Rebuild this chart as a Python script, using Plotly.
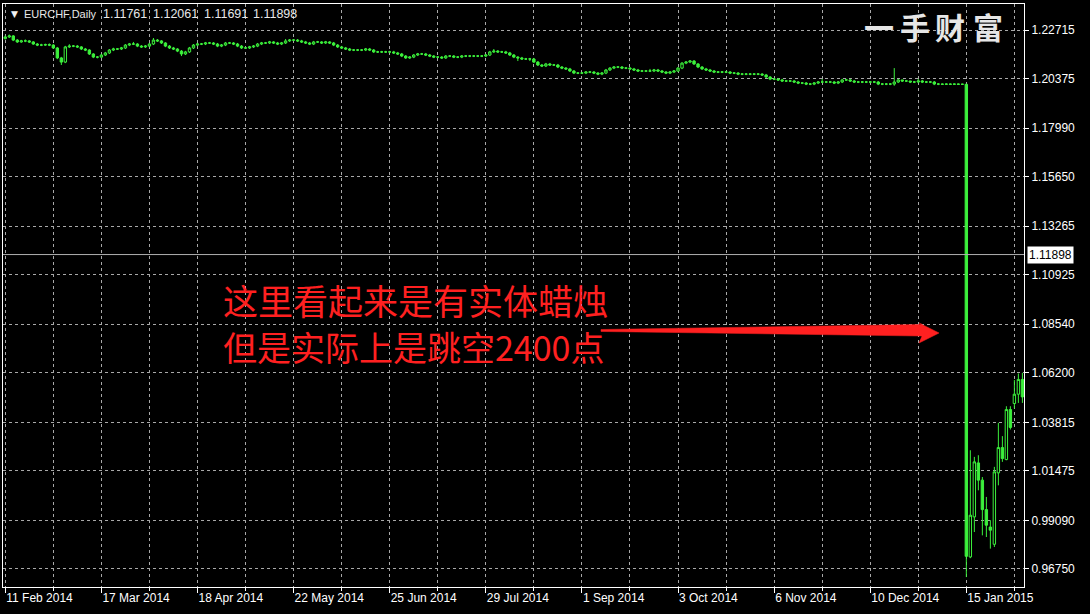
import plotly.graph_objects as go

# ---------------- data (EURCHF daily) ----------------
opens = [
 1.2230,1.2238,1.2243,1.2223,1.2214,1.2219,1.2219,1.2214,1.2204,1.2199,
 1.2199,1.2201,1.2199,1.2185,1.2137,1.2117,1.2190,1.2194,1.2194,1.2190,
 1.2180,1.2175,1.2156,1.2141,1.2141,1.2151,1.2161,1.2175,1.2180,1.2180,
 1.2185,1.2199,1.2204,1.2204,1.2194,1.2190,1.2194,1.2204,1.2223,1.2219,
 1.2209,1.2194,1.2185,1.2180,1.2170,1.2156,1.2166,1.2185,1.2199,1.2204,
 1.2204,1.2209,1.2209,1.2204,1.2194,1.2199,1.2209,1.2209,1.2204,1.2194,
 1.2185,1.2185,1.2190,1.2194,1.2204,1.2209,1.2209,1.2214,1.2209,1.2204,
 1.2209,1.2219,1.2223,1.2223,1.2219,1.2214,1.2209,1.2204,1.2214,1.2214,
 1.2209,1.2214,1.2209,1.2199,1.2190,1.2185,1.2180,1.2175,1.2175,1.2175,
 1.2175,1.2180,1.2175,1.2166,1.2166,1.2166,1.2166,1.2166,1.2161,1.2156,
 1.2146,1.2137,1.2141,1.2151,1.2156,1.2156,1.2151,1.2146,1.2141,1.2141,
 1.2137,1.2146,1.2146,1.2141,1.2141,1.2146,1.2146,1.2146,1.2146,1.2146,
 1.2146,1.2151,1.2166,1.2170,1.2166,1.2166,1.2161,1.2151,1.2141,1.2137,
 1.2132,1.2132,1.2132,1.2117,1.2103,1.2098,1.2108,1.2103,1.2103,1.2093,
 1.2088,1.2084,1.2074,1.2064,1.2064,1.2064,1.2069,1.2069,1.2064,1.2059,
 1.2064,1.2079,1.2088,1.2093,1.2093,1.2088,1.2088,1.2084,1.2079,1.2074,
 1.2074,1.2074,1.2074,1.2079,1.2074,1.2069,1.2064,1.2069,1.2074,1.2088,
 1.2112,1.2117,1.2122,1.2108,1.2093,1.2084,1.2079,1.2074,1.2069,1.2069,
 1.2069,1.2069,1.2064,1.2064,1.2059,1.2059,1.2059,1.2059,1.2059,1.2059,
 1.2055,1.2045,1.2035,1.2035,1.2031,1.2026,1.2026,1.2026,1.2021,1.2016,
 1.2016,1.2011,1.2011,1.2016,1.2021,1.2021,1.2021,1.2021,1.2016,1.2021,
 1.2031,1.2031,1.2026,1.2021,1.2021,1.2021,1.2021,1.2021,1.2021,1.2011,
 1.2011,1.2011,1.2011,1.2021,1.2031,1.2026,1.2026,1.2021,1.2021,1.2026,
 1.2021,1.2021,1.2021,1.2011,1.2011,1.2010,1.2011,1.2010,1.2011,1.2010,
 1.2010,0.9733,0.9926,1.0186,1.0103,0.9961,0.9877,0.9794,1.0138,1.0260,
 1.0202,1.0443,1.0472,1.0517,1.0588,
]
highs = [
 1.2245,1.2250,1.2247,1.2228,1.2224,1.2226,1.2223,1.2218,1.2209,1.2205,
 1.2206,1.2207,1.2203,1.2190,1.2142,1.2195,1.2203,1.2199,1.2199,1.2194,
 1.2185,1.2179,1.2160,1.2146,1.2156,1.2166,1.2180,1.2186,1.2184,1.2190,
 1.2204,1.2209,1.2214,1.2208,1.2199,1.2199,1.2209,1.2233,1.2228,1.2223,
 1.2213,1.2199,1.2190,1.2184,1.2175,1.2171,1.2190,1.2204,1.2209,1.2209,
 1.2214,1.2214,1.2213,1.2209,1.2204,1.2214,1.2214,1.2213,1.2209,1.2199,
 1.2190,1.2195,1.2199,1.2209,1.2214,1.2214,1.2219,1.2218,1.2214,1.2214,
 1.2228,1.2228,1.2228,1.2228,1.2224,1.2219,1.2214,1.2219,1.2219,1.2218,
 1.2219,1.2218,1.2214,1.2204,1.2195,1.2190,1.2185,1.2180,1.2180,1.2180,
 1.2185,1.2185,1.2180,1.2171,1.2171,1.2171,1.2171,1.2171,1.2166,1.2161,
 1.2151,1.2146,1.2156,1.2161,1.2161,1.2161,1.2156,1.2151,1.2146,1.2146,
 1.2151,1.2151,1.2151,1.2146,1.2151,1.2151,1.2151,1.2151,1.2151,1.2151,
 1.2156,1.2171,1.2180,1.2175,1.2171,1.2171,1.2166,1.2156,1.2146,1.2142,
 1.2137,1.2137,1.2137,1.2122,1.2108,1.2113,1.2113,1.2108,1.2108,1.2098,
 1.2093,1.2089,1.2079,1.2069,1.2069,1.2074,1.2074,1.2074,1.2069,1.2069,
 1.2084,1.2093,1.2098,1.2098,1.2098,1.2093,1.2093,1.2089,1.2084,1.2079,
 1.2079,1.2084,1.2084,1.2084,1.2079,1.2074,1.2074,1.2079,1.2093,1.2117,
 1.2122,1.2127,1.2127,1.2112,1.2098,1.2089,1.2084,1.2079,1.2074,1.2074,
 1.2074,1.2074,1.2069,1.2069,1.2064,1.2064,1.2064,1.2064,1.2064,1.2064,
 1.2060,1.2050,1.2040,1.2040,1.2036,1.2031,1.2031,1.2031,1.2026,1.2021,
 1.2021,1.2016,1.2021,1.2026,1.2035,1.2026,1.2026,1.2026,1.2026,1.2036,
 1.2036,1.2036,1.2031,1.2026,1.2026,1.2026,1.2026,1.2026,1.2026,1.2016,
 1.2016,1.2016,1.2088,1.2036,1.2031,1.2031,1.2026,1.2026,1.2036,1.2031,
 1.2026,1.2026,1.2026,1.2016,1.2014,1.2014,1.2014,1.2014,1.2014,1.2013,
 1.2012,1.0247,1.0215,1.0223,1.0118,1.0022,0.9910,1.0167,1.0379,1.0315,
 1.0459,1.0459,1.0585,1.0617,1.0620,
]
lows = [
 1.2226,1.2233,1.2218,1.2209,1.2210,1.2213,1.2209,1.2200,1.2194,1.2194,
 1.2195,1.2194,1.2180,1.2131,1.2103,1.2112,1.2185,1.2189,1.2185,1.2175,
 1.2170,1.2151,1.2136,1.2135,1.2137,1.2146,1.2156,1.2170,1.2175,1.2175,
 1.2180,1.2194,1.2199,1.2189,1.2185,1.2185,1.2189,1.2199,1.2214,1.2204,
 1.2189,1.2180,1.2175,1.2165,1.2146,1.2151,1.2161,1.2180,1.2194,1.2199,
 1.2199,1.2204,1.2199,1.2189,1.2189,1.2194,1.2204,1.2199,1.2189,1.2180,
 1.2180,1.2180,1.2185,1.2189,1.2199,1.2204,1.2204,1.2204,1.2199,1.2199,
 1.2204,1.2214,1.2218,1.2214,1.2209,1.2204,1.2199,1.2199,1.2209,1.2204,
 1.2204,1.2204,1.2194,1.2185,1.2180,1.2175,1.2170,1.2170,1.2170,1.2170,
 1.2170,1.2170,1.2161,1.2161,1.2161,1.2161,1.2161,1.2156,1.2151,1.2141,
 1.2132,1.2132,1.2136,1.2146,1.2151,1.2146,1.2141,1.2136,1.2136,1.2132,
 1.2132,1.2141,1.2136,1.2136,1.2136,1.2141,1.2141,1.2141,1.2141,1.2141,
 1.2141,1.2146,1.2161,1.2161,1.2161,1.2156,1.2146,1.2136,1.2122,1.2127,
 1.2127,1.2122,1.2112,1.2098,1.2093,1.2093,1.2098,1.2098,1.2088,1.2083,
 1.2079,1.2069,1.2059,1.2059,1.2059,1.2059,1.2064,1.2059,1.2054,1.2054,
 1.2059,1.2074,1.2083,1.2088,1.2083,1.2083,1.2079,1.2074,1.2069,1.2069,
 1.2069,1.2069,1.2069,1.2069,1.2064,1.2059,1.2059,1.2064,1.2069,1.2083,
 1.2107,1.2112,1.2103,1.2088,1.2079,1.2074,1.2069,1.2064,1.2064,1.2064,
 1.2064,1.2059,1.2059,1.2054,1.2054,1.2054,1.2054,1.2054,1.2054,1.2050,
 1.2040,1.2030,1.2030,1.2026,1.2021,1.2021,1.2021,1.2016,1.2011,1.2011,
 1.2006,1.2006,1.2006,1.2011,1.2016,1.2016,1.2016,1.2011,1.2011,1.2016,
 1.2026,1.2021,1.2016,1.2016,1.2016,1.2016,1.2016,1.2016,1.2006,1.2006,
 1.2006,1.2006,1.2003,1.2016,1.2021,1.2021,1.2016,1.2016,1.2016,1.2016,
 1.2016,1.2016,1.2006,1.2006,1.2007,1.2007,1.2007,1.2007,1.2007,1.2007,
 0.9636,0.9727,0.9853,1.0054,0.9837,0.9829,0.9773,0.9781,1.0078,1.0191,
 1.0199,1.0347,1.0448,1.0475,1.0475,
]
closes = [
 1.2238,1.2243,1.2223,1.2214,1.2219,1.2219,1.2214,1.2204,1.2199,1.2199,
 1.2201,1.2199,1.2185,1.2137,1.2117,1.2190,1.2194,1.2194,1.2190,1.2180,
 1.2175,1.2156,1.2141,1.2141,1.2151,1.2161,1.2175,1.2180,1.2180,1.2185,
 1.2199,1.2204,1.2204,1.2194,1.2190,1.2194,1.2204,1.2223,1.2219,1.2209,
 1.2194,1.2185,1.2180,1.2170,1.2156,1.2166,1.2185,1.2199,1.2204,1.2204,
 1.2209,1.2209,1.2204,1.2194,1.2199,1.2209,1.2209,1.2204,1.2194,1.2185,
 1.2185,1.2190,1.2194,1.2204,1.2209,1.2209,1.2214,1.2209,1.2204,1.2209,
 1.2219,1.2223,1.2223,1.2219,1.2214,1.2209,1.2204,1.2214,1.2214,1.2209,
 1.2214,1.2209,1.2199,1.2190,1.2185,1.2180,1.2175,1.2175,1.2175,1.2175,
 1.2180,1.2175,1.2166,1.2166,1.2166,1.2166,1.2166,1.2161,1.2156,1.2146,
 1.2137,1.2141,1.2151,1.2156,1.2156,1.2151,1.2146,1.2141,1.2141,1.2137,
 1.2146,1.2146,1.2141,1.2141,1.2146,1.2146,1.2146,1.2146,1.2146,1.2146,
 1.2151,1.2166,1.2170,1.2166,1.2166,1.2161,1.2151,1.2141,1.2137,1.2132,
 1.2132,1.2132,1.2117,1.2103,1.2098,1.2108,1.2103,1.2103,1.2093,1.2088,
 1.2084,1.2074,1.2064,1.2064,1.2064,1.2069,1.2069,1.2064,1.2059,1.2064,
 1.2079,1.2088,1.2093,1.2093,1.2088,1.2088,1.2084,1.2079,1.2074,1.2074,
 1.2074,1.2074,1.2079,1.2074,1.2069,1.2064,1.2069,1.2074,1.2088,1.2112,
 1.2117,1.2122,1.2108,1.2093,1.2084,1.2079,1.2074,1.2069,1.2069,1.2069,
 1.2069,1.2064,1.2064,1.2059,1.2059,1.2059,1.2059,1.2059,1.2059,1.2055,
 1.2045,1.2035,1.2035,1.2031,1.2026,1.2026,1.2026,1.2021,1.2016,1.2016,
 1.2011,1.2011,1.2016,1.2021,1.2021,1.2021,1.2021,1.2016,1.2021,1.2031,
 1.2031,1.2026,1.2021,1.2021,1.2021,1.2021,1.2021,1.2021,1.2011,1.2011,
 1.2011,1.2011,1.2021,1.2031,1.2026,1.2026,1.2021,1.2021,1.2026,1.2021,
 1.2021,1.2021,1.2011,1.2011,1.2010,1.2011,1.2010,1.2011,1.2010,1.2010,
 0.9736,0.9934,1.0191,1.0103,0.9961,0.9886,0.9862,1.0143,1.0260,1.0207,
 1.0443,1.0357,1.0517,1.0588,1.0504,
]
date_labels = ["11 Feb 2014", "17 Mar 2014", "18 Apr 2014", "22 May 2014", "25 Jun 2014",
               "29 Jul 2014", "1 Sep 2014", "3 Oct 2014", "6 Nov 2014", "10 Dec 2014",
               "15 Jan 2015"]
bars_per_label = 24
price_ticks = [1.22715, 1.20375, 1.17990, 1.15650, 1.13265, 1.10925, 1.08540,
               1.06200, 1.03815, 1.01475, 0.99090, 0.96750]
bid_price = 1.11898
symbol_text = "EURCHF,Daily"
header_values = ["1.11761", "1.12061", "1.11691", "1.11898"]
note_line1 = "这里看起来是有实体蜡烛"
note_line2 = "但是实际上是跳空2400点"
brand_chars = ["一", "手", "财", "富"]

# ---------------- figure ----------------
GREEN = "#3cf03c"
GRID = "#a8a8a8"
FONT = "Liberation Sans, Arial, sans-serif"
CJK = "Noto Sans CJK SC"

idx = list(range(len(closes)))
label_pos = [k * bars_per_label for k in range(len(date_labels))]

fig = go.Figure(go.Candlestick(
    x=idx, open=opens, high=highs, low=lows, close=closes,
    increasing=dict(line=dict(color=GREEN, width=1), fillcolor="black"),
    decreasing=dict(line=dict(color=GREEN, width=1), fillcolor=GREEN),
    whiskerwidth=0, hoverinfo="skip", showlegend=False,
))

fig.update_layout(
    width=1090, height=614,
    paper_bgcolor="black", plot_bgcolor="black",
    margin=dict(l=3, r=66, t=4, b=27),
    font=dict(family=FONT, size=12, color="white"),
    boxgap=0.15,
    xaxis=dict(
        range=[-0.57, 254.4], rangeslider=dict(visible=False),
        tickmode="array", tickvals=label_pos, ticktext=date_labels,
        ticks="outside", ticklen=5, tickcolor="white", tickwidth=1,
        ticklabelposition="outside right",
        tickfont=dict(family=FONT, size=12, color="white"),
        showgrid=True, gridcolor=GRID, griddash="3px,3px", gridwidth=1,
        minor=dict(tickmode="linear", tick0=12, dtick=24, ticks="outside", ticklen=3,
                   tickcolor="white", showgrid=True, gridcolor=GRID, griddash="3px,3px"),
        showline=True, linecolor="white", linewidth=1, mirror=True, zeroline=False,
        automargin=False,
    ),
    yaxis=dict(
        side="right", range=[0.95882, 1.23968],
        tickmode="array", tickvals=price_ticks, ticktext=[f"{v:.5f}" for v in price_ticks],
        ticks="outside", ticklen=4, tickcolor="white",
        tickfont=dict(family=FONT, size=12, color="white"),
        showgrid=True, gridcolor=GRID, griddash="3px,3px", gridwidth=1,
        showline=True, linecolor="white", linewidth=1, mirror=True, zeroline=False,
        automargin=False,
    ),
)

def px_x(p):
    return (p - 3) / 1021.0

def px_y(p):
    return 1 - (p - 4) / 583.0

# bid line and its price box
fig.add_shape(type="line", xref="paper", x0=0, x1=1, yref="y", y0=bid_price, y1=bid_price,
              line=dict(color="#b0b0b0", width=1))
fig.add_annotation(xref="paper", x=1, xanchor="left", xshift=3, yref="y", y=bid_price,
                   text=f"{bid_price:.5f}", showarrow=False, bgcolor="white",
                   font=dict(family=FONT, size=12, color="black"), borderpad=1)

# header
fig.add_annotation(xref="paper", x=px_x(9), xanchor="left", yref="paper", y=px_y(14),
                   yanchor="middle", text="▼", showarrow=False,
                   font=dict(family="DejaVu Sans", size=9, color="#f0f0f0"))
fig.add_annotation(xref="paper", x=px_x(22), xanchor="left", yref="paper", y=px_y(14),
                   yanchor="middle", text=symbol_text, showarrow=False,
                   font=dict(family=FONT, size=11, color="#e8e8e8"))
for v, xp in zip(header_values, [101, 151, 202, 251]):
    fig.add_annotation(xref="paper", x=px_x(xp), xanchor="left", yref="paper", y=px_y(14),
                       yanchor="middle", text=v, showarrow=False,
                       font=dict(family=FONT, size=12.5, color="#e8e8e8"))

# brand watermark
for ch, xc in zip(brand_chars, [879, 914.5, 950, 988]):
    fig.add_annotation(xref="paper", x=px_x(xc), xanchor="center", yref="paper", y=px_y(26),
                       yanchor="middle", text=f"<b>{ch}</b>", showarrow=False,
                       font=dict(family=CJK, size=30, color="#e6e6e6"))

# red note text
fig.add_annotation(xref="paper", x=px_x(221), xanchor="left", yref="paper", y=px_y(299.5),
                   yanchor="middle", text=note_line1, showarrow=False,
                   font=dict(family=CJK, size=35, color="#ff2020"))
fig.add_annotation(xref="paper", x=px_x(221), xanchor="left", yref="paper", y=px_y(346.5),
                   yanchor="middle", text=note_line2, showarrow=False,
                   font=dict(family=CJK, size=34, color="#ff2020"))

# tapered red arrow
fig.add_shape(type="path", xref="paper", yref="paper",
              path="M 0.5857,0.4417 L 0.9001,0.4503 L 0.8972,0.4528 L 0.9168,0.4357 "
                   "L 0.8972,0.4185 L 0.9001,0.4305 L 0.5857,0.4383 Z",
              fillcolor="#ff2020", line=dict(color="#ff2020", width=0.5))

fig.write_html("out.html", config={"displayModeBar": False},
               post_script="document.body.style.margin='0px';document.body.style.padding='0px';")
